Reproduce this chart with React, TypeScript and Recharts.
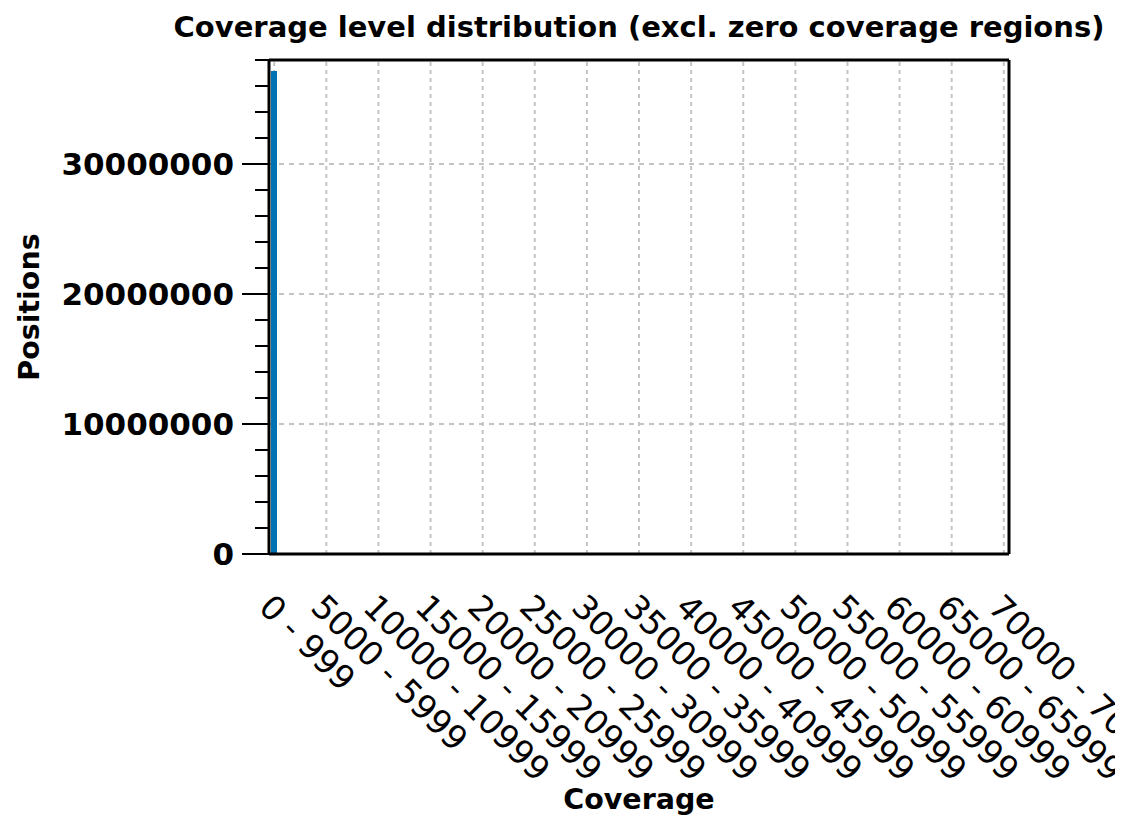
import React from 'react';
import { BarChart, Bar, XAxis, YAxis, CartesianGrid, ReferenceLine, Label } from 'recharts';

const categories: string[] = [
  '0 - 999', '1000 - 1999', '2000 - 2999', '3000 - 3999', '4000 - 4999',
  '5000 - 5999', '6000 - 6999', '7000 - 7999', '8000 - 8999', '9000 - 9999',
  '10000 - 10999', '11000 - 11999', '12000 - 12999', '13000 - 13999', '14000 - 14999',
  '15000 - 15999', '16000 - 16999', '17000 - 17999', '18000 - 18999', '19000 - 19999',
  '20000 - 20999', '21000 - 21999', '22000 - 22999', '23000 - 23999', '24000 - 24999',
  '25000 - 25999', '26000 - 26999', '27000 - 27999', '28000 - 28999', '29000 - 29999',
  '30000 - 30999', '31000 - 31999', '32000 - 32999', '33000 - 33999', '34000 - 34999',
  '35000 - 35999', '36000 - 36999', '37000 - 37999', '38000 - 38999', '39000 - 39999',
  '40000 - 40999', '41000 - 41999', '42000 - 42999', '43000 - 43999', '44000 - 44999',
  '45000 - 45999', '46000 - 46999', '47000 - 47999', '48000 - 48999', '49000 - 49999',
  '50000 - 50999', '51000 - 51999', '52000 - 52999', '53000 - 53999', '54000 - 54999',
  '55000 - 55999', '56000 - 56999', '57000 - 57999', '58000 - 58999', '59000 - 59999',
  '60000 - 60999', '61000 - 61999', '62000 - 62999', '63000 - 63999', '64000 - 64999',
  '65000 - 65999', '66000 - 66999', '67000 - 67999', '68000 - 68999', '69000 - 69999',
  '70000 - 70999',
];

const positions: number[] = [
  37150000, 21400, 3150, 1420, 880, 610, 470, 390, 330, 280,
  240, 215, 190, 170, 150, 140, 125, 115, 105, 96,
  90, 84, 78, 72, 68, 63, 60, 56, 52, 49,
  47, 44, 42, 40, 38, 36, 34, 33, 31, 30,
  28, 27, 26, 25, 24, 23, 22, 21, 20, 19,
  19, 18, 17, 16, 16, 15, 14, 14, 13, 13,
  12, 12, 11, 11, 10, 10, 9, 9, 8, 8,
  12,
];

const yTicks: number[] = [
  0, 2000000, 4000000, 6000000, 8000000, 10000000, 12000000, 14000000, 16000000, 18000000,
  20000000, 22000000, 24000000, 26000000, 28000000, 30000000, 32000000, 34000000, 36000000, 38000000,
];
const yMajorTicks: number[] = [0, 10000000, 20000000, 30000000];
const yGridValues: number[] = [10000000, 20000000, 30000000];
const yDomain: [number, number] = [0, 38000000];
const xLabelStep = 5;

const TITLE = 'Coverage level distribution (excl. zero coverage regions)';
const X_LABEL = 'Coverage';
const Y_LABEL = 'Positions';

const FONT = '"DejaVu Sans", sans-serif';

const data = categories.map((c, i) => ({ coverage: c, positions: positions[i] }));
const gridCategories = categories.filter((_, i) => i % xLabelStep === 0);

const YTick = (props: any) => {
  const { x, y, payload } = props;
  const major = yMajorTicks.includes(payload.value);
  const len = major ? 27 : 14;
  return (
    <g>
      <line x1={x - len} x2={x} y1={y} y2={y} stroke="#000" strokeWidth={2} />
      {major && (
        <text
          x={x - len - 8}
          y={y + 11}
          textAnchor="end"
          fontSize={31}
          fontWeight="bold"
          fontFamily={FONT}
          fill="#000"
        >
          {String(payload.value)}
        </text>
      )}
    </g>
  );
};

const XTick = (props: any) => {
  const { x, y, payload } = props;
  const tx = x - 17;
  const ty = y + 55;
  return (
    <text
      x={tx}
      y={ty}
      transform={`rotate(45 ${tx} ${ty})`}
      textAnchor="start"
      fontSize={33.5}
      fontFamily={FONT}
      fill="#000"
    >
      {payload.value}
    </text>
  );
};

const XAxisLabel = (props: any) => {
  const vb = props.viewBox || {};
  return (
    <text
      x={vb.x + vb.width / 2}
      y={vb.y + vb.height - 13}
      textAnchor="middle"
      fontSize={28.5}
      fontWeight="bold"
      fontFamily={FONT}
      fill="#000"
    >
      {X_LABEL}
    </text>
  );
};

const YAxisLabel = (props: any) => {
  const vb = props.viewBox || {};
  const cx = vb.x + 39;
  const cy = vb.y + vb.height / 2;
  return (
    <text
      x={cx}
      y={cy}
      transform={`rotate(-90 ${cx} ${cy})`}
      textAnchor="middle"
      fontSize={28.5}
      fontWeight="bold"
      fontFamily={FONT}
      fill="#000"
    >
      {Y_LABEL}
    </text>
  );
};

export default function App() {
  return (
    <div style={{ position: 'absolute', left: 0, top: 0, width: 1115, height: 822, overflow: 'hidden', background: '#fff' }}>
      <BarChart
        width={1115}
        height={822}
        data={data}
        margin={{ top: 59, right: 105, bottom: 0, left: 0 }}
        barSize={6}
      >
        <CartesianGrid
          xAxisId="bottom"
          yAxisId="left"
          vertical={false}
          horizontalValues={yGridValues}
          stroke="#c4c4c4"
          strokeWidth={2}
          strokeDasharray="5 5"
        />
        {gridCategories.map((c) => (
          <ReferenceLine
            key={c}
            x={c}
            xAxisId="bottom"
            yAxisId="left"
            stroke="#c4c4c4"
            strokeWidth={2}
            strokeDasharray="4 4"
            zIndex={0}
          />
        ))}
        <XAxis
          xAxisId="bottom"
          dataKey="coverage"
          type="category"
          height={268}
          interval={xLabelStep - 1}
          tick={<XTick />}
          tickLine={false}
          tickSize={0}
          tickMargin={0}
          axisLine={{ stroke: '#000', strokeWidth: 3 }}
        >
          <Label content={<XAxisLabel />} />
        </XAxis>
        <XAxis
          xAxisId="top"
          orientation="top"
          dataKey="coverage"
          type="category"
          height={1}
          tick={false}
          tickLine={false}
          axisLine={{ stroke: '#000', strokeWidth: 3 }}
        />
        <YAxis
          yAxisId="left"
          width={269}
          domain={yDomain}
          ticks={yTicks}
          interval={0}
          allowDataOverflow
          tick={<YTick />}
          tickLine={false}
          tickSize={0}
          tickMargin={0}
          axisLine={{ stroke: '#000', strokeWidth: 3 }}
        >
          <Label content={<YAxisLabel />} />
        </YAxis>
        <YAxis
          yAxisId="right"
          orientation="right"
          width={1}
          domain={yDomain}
          tick={false}
          tickLine={false}
          axisLine={{ stroke: '#000', strokeWidth: 3 }}
        />
        <Bar
          xAxisId="bottom"
          yAxisId="left"
          dataKey="positions"
          fill="#0072b2"
          isAnimationActive={false}
        />
      </BarChart>
      <svg
        width={1115}
        height={60}
        style={{ position: 'absolute', left: 0, top: 0, pointerEvents: 'none' }}
      >
        <text
          x={639}
          y={37}
          textAnchor="middle"
          fontSize={29}
          fontWeight="bold"
          fontFamily={FONT}
          fill="#000"
        >
          {TITLE}
        </text>
      </svg>
    </div>
  );
}
